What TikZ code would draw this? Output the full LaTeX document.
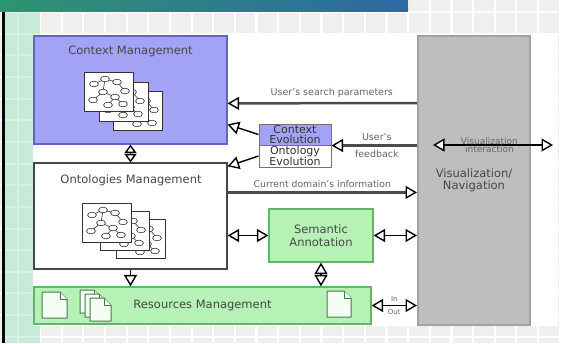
\documentclass[tikz,border=0pt]{standalone}
\usepackage{fontspec}
\setmainfont{DejaVu Sans}
\usetikzlibrary{arrows.meta}

\definecolor{gridgray}{HTML}{EFEFEF}
\definecolor{mint}{HTML}{C6EBD8}
\definecolor{mintline}{HTML}{D6F2E4}
\definecolor{barGreen}{HTML}{2E9470}
\definecolor{barBlue}{HTML}{2D69A3}
\definecolor{ctxblue}{HTML}{A3A3F6}
\definecolor{ctxedge}{HTML}{6464C4}
\definecolor{leaf}{HTML}{B6F1B6}
\definecolor{leafedge}{HTML}{62B562}
\definecolor{visgray}{HTML}{BEBEBE}
\definecolor{visedge}{HTML}{A2A2A2}
\definecolor{ink}{HTML}{464646}

\newcommand\graphsheet[2]{%
  \begin{scope}[shift={(#1,#2)}]
    \draw[sheet] (0,0) rectangle (49,39);
    \draw[glink] (10,12) -- (21,7) -- (33,10) -- (41,19)
                 (21,7) -- (19,20) -- (9,28)
                 (19,20) -- (31,25) -- (39,32)
                 (31,25) -- (24,33);
    \foreach \gx/\gy in {10/12,21/7,33/10,41/19,19/20,9/28,31/25,39/32,24/33}
      \draw[gnode] (\gx,\gy) ellipse [x radius=4.4pt, y radius=2.8pt];
  \end{scope}}

\newcommand\docsheet[4]{%
  \draw[doc] (#1,#2) -- ++({#3-7},0) -- ++(7,7) -- ++(0,{#4-7}) -- ++({-#3},0) -- cycle;
  \draw[doc] ({#1+#3-7},#2) -- ++(0,7) -- ++(7,0);}

\tikzset{
  oT/.tip={Triangle[length=11.5pt, width=13pt, fill=white, color=black, line width=1.4pt]},
  oS/.tip={Triangle[length=8.5pt, width=12pt, fill=white, color=black, line width=1.4pt]},
  bigfont/.style={font=\fontsize{11.5}{12.5}\selectfont},
  smallfont/.style={font=\fontsize{9.5}{9.5}\selectfont},
  box/.style={draw, line width=1.2pt, inner sep=0pt, align=center, text=ink, bigfont},
  ctxbox/.style={box, fill=ctxblue, draw=ctxedge},
  plainbox/.style={box, fill=white, draw=ink},
  greenbox/.style={box, fill=leaf, draw=leafedge},
  visbox/.style={box, fill=visgray, draw=visedge, line width=2pt},
  evobox/.style={draw=black!55, line width=1pt, inner sep=0pt, align=center,
    font=\fontsize{11}{9.6}\selectfont, text=black!80},
  title/.style={bigfont, text=ink, inner sep=0pt},
  lab/.style={smallfont, text=black!60, inner sep=1pt, align=center},
  conn/.style={draw=black, line width=1.4pt},
  fat/.style={draw=black!70, line width=2.5pt},
  sheet/.style={draw=black!80, fill=white, line width=0.8pt},
  glink/.style={draw=black!80, line width=0.6pt},
  gnode/.style={draw=black!80, fill=white, line width=0.6pt},
  doc/.style={draw=leafedge!70!black, fill=white!85!leaf, line width=1pt, line join=round},
}

\begin{document}
\begin{tikzpicture}[x=1pt, y=-1pt]
\useasboundingbox (0,0) rectangle (561,343);

% page background: grey tiles, mint side strip, dark rule and title bar
\fill[gridgray] (0,0) rectangle (561,343);
\foreach \k in {0,...,25}
  \draw[white, line width=2.2pt] ({18.4+21.65*\k},0) -- ++(0,343);
\foreach \k in {0,...,15}
  \draw[white, line width=2.2pt] (0,{12+21.65*\k}) -- ++(561,0);
\fill[mint] (5,0) rectangle (40,343);
\draw[mintline, line width=2pt] (18.4,0) -- (18.4,343);
\foreach \k in {0,...,15}
  \draw[mintline, line width=2pt] (5,{12+21.65*\k}) -- (40,{12+21.65*\k});
\fill[black] (1.7,0) rectangle (5,343);
\shade[left color=barGreen, right color=barBlue] (0,0) rectangle (408,11.5);
\fill[white] (33,35) rectangle (558,326);

% main blocks
\node[ctxbox, minimum width=193pt, minimum height=108pt] (ctx) at (130.5,90) {};
\node[title] (ctxT) at (130.5,51) {Context Management};
\graphsheet{113}{91}
\graphsheet{99}{82}
\graphsheet{84}{72}

\node[plainbox, minimum width=193pt, minimum height=106pt] (ont) at (130.5,216) {};
\node[title] (ontT) at (131,180) {Ontologies Management};
\graphsheet{116}{219}
\graphsheet{100}{211}
\graphsheet{82}{203}

\node[greenbox, minimum width=337pt, minimum height=37pt] (res) at (202.5,305.5) {Resources Management};
\docsheet{42}{292}{25}{26}
\docsheet{80}{290}{21}{23}
\docsheet{85}{294}{21}{23}
\docsheet{90}{298}{21}{23}
\docsheet{327}{291}{24}{26}

\node[greenbox, minimum width=104pt, minimum height=53pt] (sem) at (321,235.5) {Semantic\\Annotation};

\node[visbox, minimum width=112pt, minimum height=289pt] (vis) at (474,180.5) {Visualization/\\Navigation};

\node[evobox, fill=ctxblue, minimum width=72pt, minimum height=21pt] (evoC) at (295,134.5) {Context\\Evolution};
\node[evobox, fill=white, minimum width=72pt, minimum height=22pt] (evoO) at (295,156) {Ontology\\Evolution};

% connector end points
\coordinate (spV) at ([yshift=-68pt]vis.north west);
\coordinate (spC) at ([yshift=-68pt]ctx.north east);
\coordinate (ceC) at ([yshift=-89pt]ctx.north east);
\coordinate (oeO) at ([yshift=-4pt]ont.north east);
\coordinate (cdO) at ([yshift=-30pt]ont.north east);
\coordinate (viL) at (433,145);
\coordinate (viR) at (553,145);

% connectors
\draw[conn, {oS}-{oS}] (ctx.south) -- (ont.north);
\draw[conn, -{oT}] (ont.south) -- (ont.south |- res.north);
\draw[conn, {oT}-{oT}] (sem.west -| ont.east) -- (sem.west);
\draw[conn, {oT}-{oT}] (sem.east) -- (sem.east -| vis.west);
\draw[conn, {oT}-{oT}] (sem.south) -- (sem.south |- res.north);
\draw[conn, {oT}-{oT}] (res.east) -- (res.east -| vis.west)
  node[lab, midway, above=2pt, font=\fontsize{7}{7}\selectfont] (lIn) {In}
  node[lab, midway, below=2pt, font=\fontsize{7}{7}\selectfont] (lOut) {Out};

\draw[fat, -{oT}] (spV) -- (spC)
  node[lab, pos=.45, above=3pt] (lSearch) {User's search parameters};
\draw[conn, -{oT}] (evoC.west) -- (ceC);
\draw[conn, -{oT}] (evoO.west) -- (oeO);
\draw[fat, -{oT}] (vis.west |- evoC.south east) -- (evoC.south east)
  node[lab, pos=.47, above=3pt] (lUser) {User's}
  node[lab, pos=.47, below=3pt] (lFeed) {feedback};
\draw[conn, {oT}-{oT}] (viL) -- (viR)
  node[lab, pos=.47, font=\fontsize{9}{8}\selectfont] (lVis) {Visualization\\interaction};
\draw[fat, -{oT}] (cdO) -- (cdO -| vis.west)
  node[lab, midway, above=3pt, font=\fontsize{9.3}{9.5}\selectfont] (lDom) {Current domain's information};
\end{tikzpicture}
\end{document}
